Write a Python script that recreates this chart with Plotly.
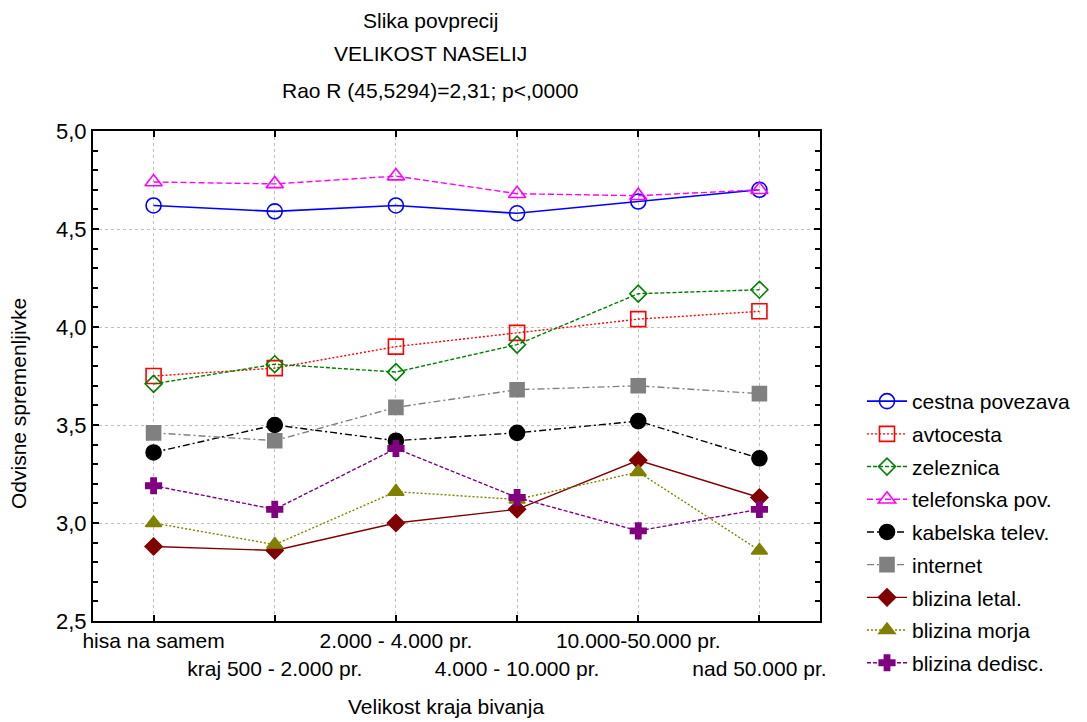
import plotly.graph_objects as go

categories = ["hisa na samem", "kraj 500 - 2.000 pr.", "2.000 - 4.000 pr.",
              "4.000 - 10.000 pr.", "10.000-50.000 pr.", "nad 50.000 pr."]

cestna = [4.62, 4.59, 4.62, 4.58, 4.64, 4.70]
avtocesta = [3.75, 3.79, 3.90, 3.97, 4.04, 4.08]
zeleznica = [3.71, 3.81, 3.77, 3.91, 4.17, 4.19]
telefonska = [4.74, 4.73, 4.77, 4.68, 4.67, 4.70]
kabelska = [3.36, 3.50, 3.42, 3.46, 3.52, 3.33]
internet = [3.46, 3.42, 3.59, 3.68, 3.70, 3.66]
letal = [2.88, 2.86, 3.00, 3.07, 3.32, 3.13]
morja = [3.00, 2.89, 3.16, 3.12, 3.26, 2.86]
dedisc = [3.19, 3.07, 3.38, 3.13, 2.96, 3.07]

series = [
    ("cestna povezava", cestna, "#0000ff", "solid", "circle-open", 15, 1.6),
    ("avtocesta", avtocesta, "#ff0000", "2px,2px", "square-open", 15, 1.4),
    ("zeleznica", zeleznica, "#008000", "4px,2px", "diamond-open", 13, 1.4),
    ("telefonska pov.", telefonska, "#ff00ff", "6px,3px", "triangle-up-open", 15, 1.4),
    ("kabelska telev.", kabelska, "#000000", "7px,3px,2px,3px", "circle", 15, 1.4),
    ("internet", internet, "#808080", "7px,3px,2px,3px", "square", 14, 1.4),
    ("blizina letal.", letal, "#800000", "solid", "diamond", 13, 1.4),
    ("blizina morja", morja, "#808000", "2px,2px", "triangle-up", 14, 1.4),
    ("blizina dedisc.", dedisc, "#800080", "4px,2px", "cross", 13, 1.4),
]

xidx = list(range(len(categories)))
ticktext = [c if i % 2 == 0 else "<br>" + c for i, c in enumerate(categories)]

fig = go.Figure()
for i, (name, vals, col, dash, sym, size, lw) in enumerate(series):
    fig.add_trace(go.Scatter(
        x=xidx, y=vals, name=name, mode="lines+markers",
        line=dict(color=col, dash=dash, width=lw),
        marker=dict(symbol=sym, size=size, color=col,
                    line=dict(color=col, width=1.6)),
        legendgroup=f"g{i}",
    ))

# page body has an 8px margin; plot area in screen pixels: x 93-820, y 131-621
PX0, PX1, PY0, PY1 = 93, 820, 131, 621
W, H = 1079, 714


def px(X):
    return (X - PX0) / (PX1 - PX0)


def py(Y):
    return (PY1 - Y) / (PY1 - PY0)


fnt = "Liberation Sans, Arial, sans-serif"
fig.update_layout(
    width=W, height=H,
    margin=dict(l=PX0 - 8, r=W - (PX1 - 8), t=PY0 - 8, b=H - (PY1 - 8)),
    plot_bgcolor="white", paper_bgcolor="white",
    font=dict(family=fnt, size=21, color="black"),
    separators=",.",
    showlegend=True,
    legend=dict(x=px(862), xanchor="left", y=py(381), yanchor="top",
                font=dict(size=21), tracegroupgap=2.4,
                traceorder="grouped", itemwidth=40,
                bgcolor="rgba(0,0,0,0)"),
    xaxis=dict(range=[-0.5, 5.5], tickmode="array", tickvals=xidx,
               ticktext=ticktext, tickangle=0, automargin=False,
               showline=True, linecolor="black",
               linewidth=2, mirror="ticks", ticks="inside", ticklen=6,
               tickcolor="black", tickwidth=1.5,
               showgrid=True, gridcolor="#c0c0c0", griddash="dot",
               gridwidth=1, zeroline=False,
               tickfont=dict(size=21)),
    yaxis=dict(range=[2.5, 5.0], tickmode="linear", tick0=2.5, dtick=0.5,
               tickformat=".1f", automargin=False,
               showline=True, linecolor="black",
               linewidth=2, mirror="ticks", ticks="inside", ticklen=6,
               tickcolor="black", tickwidth=1.5,
               showgrid=True, gridcolor="#c0c0c0", griddash="dot",
               gridwidth=1, zeroline=False,
               tickfont=dict(size=22),
               minor=dict(dtick=0.1, ticks="inside", ticklen=5,
                          tickcolor="black", showgrid=False)),
)

title_lines = [
    ("Slika povprecij", 21),
    ("VELIKOST NASELIJ", 54),
    ("Rao R (45,5294)=2,31; p<,0000", 91),
]
for txt, ypx in title_lines:
    fig.add_annotation(text=txt, xref="paper", yref="paper", x=px(430),
                       y=py(ypx), xanchor="center",
                       yanchor="middle", showarrow=False, borderpad=0,
                       font=dict(size=21, family=fnt))

fig.add_annotation(text="Velikost kraja bivanja", xref="paper", yref="paper",
                   x=px(446), y=py(706), xanchor="center",
                   yanchor="middle", showarrow=False, font=dict(size=21, family=fnt))
fig.add_annotation(text="Odvisne spremenljivke", xref="paper", yref="paper",
                   x=px(18), y=py(404), xanchor="center",
                   yanchor="middle", textangle=-90, showarrow=False,
                   font=dict(size=21, family=fnt))

fig.write_html("out.html")
